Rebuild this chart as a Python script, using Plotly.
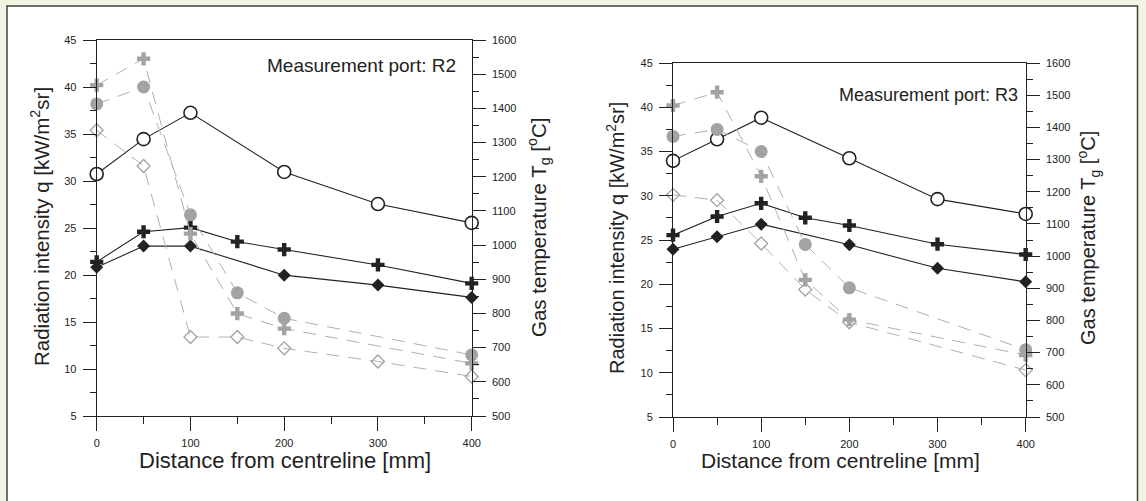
import plotly.graph_objects as go

W, H = 1146, 501

# ---------------- DATA ----------------
# Port R2 - gas temperature (black, right axis, °C)
r2_x_open_circle = [0, 50, 100, 200, 300, 400]
r2_T_open_circle = [1208, 1310, 1387, 1214, 1120, 1065]
r2_x_black_cross = [0, 50, 100, 150, 200, 300, 400]
r2_T_black_cross = [951, 1039, 1051, 1010, 987, 942, 888]
r2_x_black_diamond = [0, 50, 100, 200, 300, 400]
r2_T_black_diamond = [935, 997, 997, 912, 883, 847]
# Port R2 - radiation intensity (grey, left axis, kW/m2sr)
r2_x_grey_circle = [0, 50, 100, 150, 200, 400]
r2_q_grey_circle = [38.2, 40.0, 26.4, 18.1, 15.4, 11.5]
r2_x_grey_cross = [0, 50, 100, 150, 200, 400]
r2_q_grey_cross = [40.2, 43.0, 24.4, 15.9, 14.3, 10.6]
r2_x_grey_diamond = [0, 50, 100, 150, 200, 300, 400]
r2_q_grey_diamond = [35.4, 31.6, 13.4, 13.4, 12.2, 10.8, 9.2]

# Port R3 - gas temperature
r3_x_open_circle = [0, 50, 100, 200, 300, 400]
r3_T_open_circle = [1296, 1363, 1430, 1304, 1177, 1131]
r3_x_black_cross = [0, 50, 100, 150, 200, 300, 400]
r3_T_black_cross = [1065, 1123, 1164, 1119, 1095, 1037, 1005]
r3_x_black_diamond = [0, 50, 100, 200, 300, 400]
r3_T_black_diamond = [1021, 1060, 1099, 1035, 962, 920]
# Port R3 - radiation intensity
r3_x_grey_circle = [0, 50, 100, 150, 200, 400]
r3_q_grey_circle = [36.7, 37.5, 35.0, 24.5, 19.6, 12.6]
r3_x_grey_cross = [0, 50, 100, 150, 200, 400]
r3_q_grey_cross = [40.2, 41.7, 32.2, 20.5, 16.0, 12.0]
r3_x_grey_diamond = [0, 50, 100, 150, 200, 400]
r3_q_grey_diamond = [30.1, 29.5, 24.6, 19.4, 15.7, 10.3]

x_ticks = [0, 100, 200, 300, 400]
q_ticks = [5, 10, 15, 20, 25, 30, 35, 40, 45]
T_ticks = [500, 600, 700, 800, 900, 1000, 1100, 1200, 1300, 1400, 1500, 1600]

# ---------------- STYLE ----------------
INK = "#222222"
GREY = "#a3a3a3"
GREY_LINE = "#b0b0b0"
FONT = "Liberation Sans, Arial, Helvetica, sans-serif"


def px_x(p):
    return p / W


def px_y(p):
    return (H - p) / H


fig = go.Figure()


def black_traces(xa, ya, xs, ys):
    xc, xk, xd = xs
    yc, yk, yd = ys
    fig.add_trace(go.Scatter(x=xc, y=yc, xaxis=xa, yaxis=ya, mode="lines+markers",
                             line=dict(color=INK, width=1.1), cliponaxis=False,
                             marker=dict(symbol="circle", size=13, color="white",
                                         line=dict(color=INK, width=1.6)),
                             showlegend=False))
    fig.add_trace(go.Scatter(x=xk, y=yk, xaxis=xa, yaxis=ya, mode="lines+markers",
                             line=dict(color=INK, width=1.1), cliponaxis=False,
                             marker=dict(symbol="cross", size=11, color=INK, line=dict(width=0)),
                             showlegend=False))
    fig.add_trace(go.Scatter(x=xd, y=yd, xaxis=xa, yaxis=ya, mode="lines+markers",
                             line=dict(color=INK, width=1.1), cliponaxis=False,
                             marker=dict(symbol="diamond", size=10, color=INK, line=dict(width=0)),
                             showlegend=False))


def grey_traces(xa, ya, xs, ys):
    xc, xk, xd = xs
    yc, yk, yd = ys
    dash = "13px,9px"
    fig.add_trace(go.Scatter(x=xc, y=yc, xaxis=xa, yaxis=ya, mode="lines+markers",
                             line=dict(color=GREY_LINE, width=1, dash=dash), cliponaxis=False,
                             marker=dict(symbol="circle", size=13, color=GREY, line=dict(width=0)),
                             showlegend=False))
    fig.add_trace(go.Scatter(x=xk, y=yk, xaxis=xa, yaxis=ya, mode="lines+markers",
                             line=dict(color=GREY_LINE, width=1, dash=dash), cliponaxis=False,
                             marker=dict(symbol="cross", size=11, color=GREY, line=dict(width=0)),
                             showlegend=False))
    fig.add_trace(go.Scatter(x=xd, y=yd, xaxis=xa, yaxis=ya, mode="lines+markers",
                             line=dict(color=GREY_LINE, width=1, dash=dash), cliponaxis=False,
                             marker=dict(symbol="diamond-open", size=10, color=GREY,
                                         line=dict(color=GREY, width=1.3)),
                             showlegend=False))


black_traces("x", "y",
             [r2_x_open_circle, r2_x_black_cross, r2_x_black_diamond],
             [r2_T_open_circle, r2_T_black_cross, r2_T_black_diamond])
grey_traces("x", "y2",
            [r2_x_grey_circle, r2_x_grey_cross, r2_x_grey_diamond],
            [r2_q_grey_circle, r2_q_grey_cross, r2_q_grey_diamond])
black_traces("x2", "y3",
             [r3_x_open_circle, r3_x_black_cross, r3_x_black_diamond],
             [r3_T_open_circle, r3_T_black_cross, r3_T_black_diamond])
grey_traces("x2", "y4",
            [r3_x_grey_circle, r3_x_grey_cross, r3_x_grey_diamond],
            [r3_q_grey_circle, r3_q_grey_cross, r3_q_grey_diamond])

tickfont = dict(family=FONT, size=11, color=INK)
common = dict(showgrid=False, zeroline=False, showline=True, linecolor=INK, linewidth=1,
              ticks="outside", tickcolor=INK, tickwidth=1, tickfont=tickfont, automargin=False)


def xaxis(domain, anchor):
    return dict(domain=domain, anchor=anchor, range=[0, 400], tickvals=x_ticks,
                ticklen=14, mirror=True, ticklabelstandoff=3,
                minor=dict(ticks="outside", ticklen=7, tickmode="linear", tick0=0, dtick=50,
                           tickcolor=INK, tickwidth=1),
                **common)


def taxis(domain, anchor):
    return dict(domain=domain, anchor=anchor, side="right", range=[500, 1600],
                tickvals=T_ticks, ticklen=13, ticklabelstandoff=4,
                minor=dict(ticks="outside", ticklen=6, tickmode="linear", tick0=500, dtick=50,
                           tickcolor=INK, tickwidth=1),
                **common)


def qaxis(over, anchor):
    return dict(overlaying=over, anchor=anchor, side="left", range=[5, 45],
                tickvals=q_ticks, ticklen=13, ticklabelstandoff=4,
                minor=dict(ticks="outside", ticklen=6, tickmode="linear", tick0=5, dtick=2.5,
                           tickcolor=INK, tickwidth=1),
                **common)


L_x = [px_x(96.7), px_x(471.7)]
L_y = [px_y(416), px_y(40)]
R_x = [px_x(673), px_x(1025.7)]
R_y = [px_y(417), px_y(63)]

annotations = []


def ann(text, x, y, size, angle=0, xanchor="center"):
    annotations.append(dict(text=text, x=px_x(x), y=px_y(y), xref="paper", yref="paper",
                            showarrow=False, textangle=angle,
                            font=dict(family=FONT, size=size, color=INK),
                            xanchor=xanchor, yanchor="middle"))


q_title = "Radiation intensity q [kW/m<sup>2</sup>sr]"
T_title = "Gas temperature T<sub>g</sub> [<sup>o</sup>C]"
x_title = "Distance from centreline [mm]"

ann(q_title, 40, 227, 20.5, -90)
ann(T_title, 538, 227, 20.5, -90)
ann(x_title, 285, 460, 22)
ann("Measurement port: R2", 458, 65, 19, xanchor="right")

ann(q_title, 615, 238, 20, -90)
ann(T_title, 1088, 238, 20, -90)
ann(x_title, 840, 460, 21)
ann("Measurement port: R3", 1020, 95, 18, xanchor="right")

shapes = [dict(type="rect", xref="paper", yref="paper", x0=px_x(7), x1=px_x(1137.5),
               y0=px_y(510), y1=px_y(6), fillcolor="white",
               line=dict(color="#3f423a", width=1.5), layer="below")]

fig.update_layout(
    width=W, height=H,
    margin=dict(l=0, r=0, t=0, b=0, pad=0),
    paper_bgcolor="#f1f4e2",
    plot_bgcolor="rgba(0,0,0,0)",
    showlegend=False,
    xaxis=xaxis(L_x, "y"),
    yaxis=taxis(L_y, "x"),
    yaxis2=qaxis("y", "x"),
    xaxis2=xaxis(R_x, "y3"),
    yaxis3=taxis(R_y, "x2"),
    yaxis4=qaxis("y3", "x2"),
    annotations=annotations,
    shapes=shapes,
)

fig.write_html("out.html", config={"displayModeBar": False},
               post_script="document.body.style.margin='0';")
